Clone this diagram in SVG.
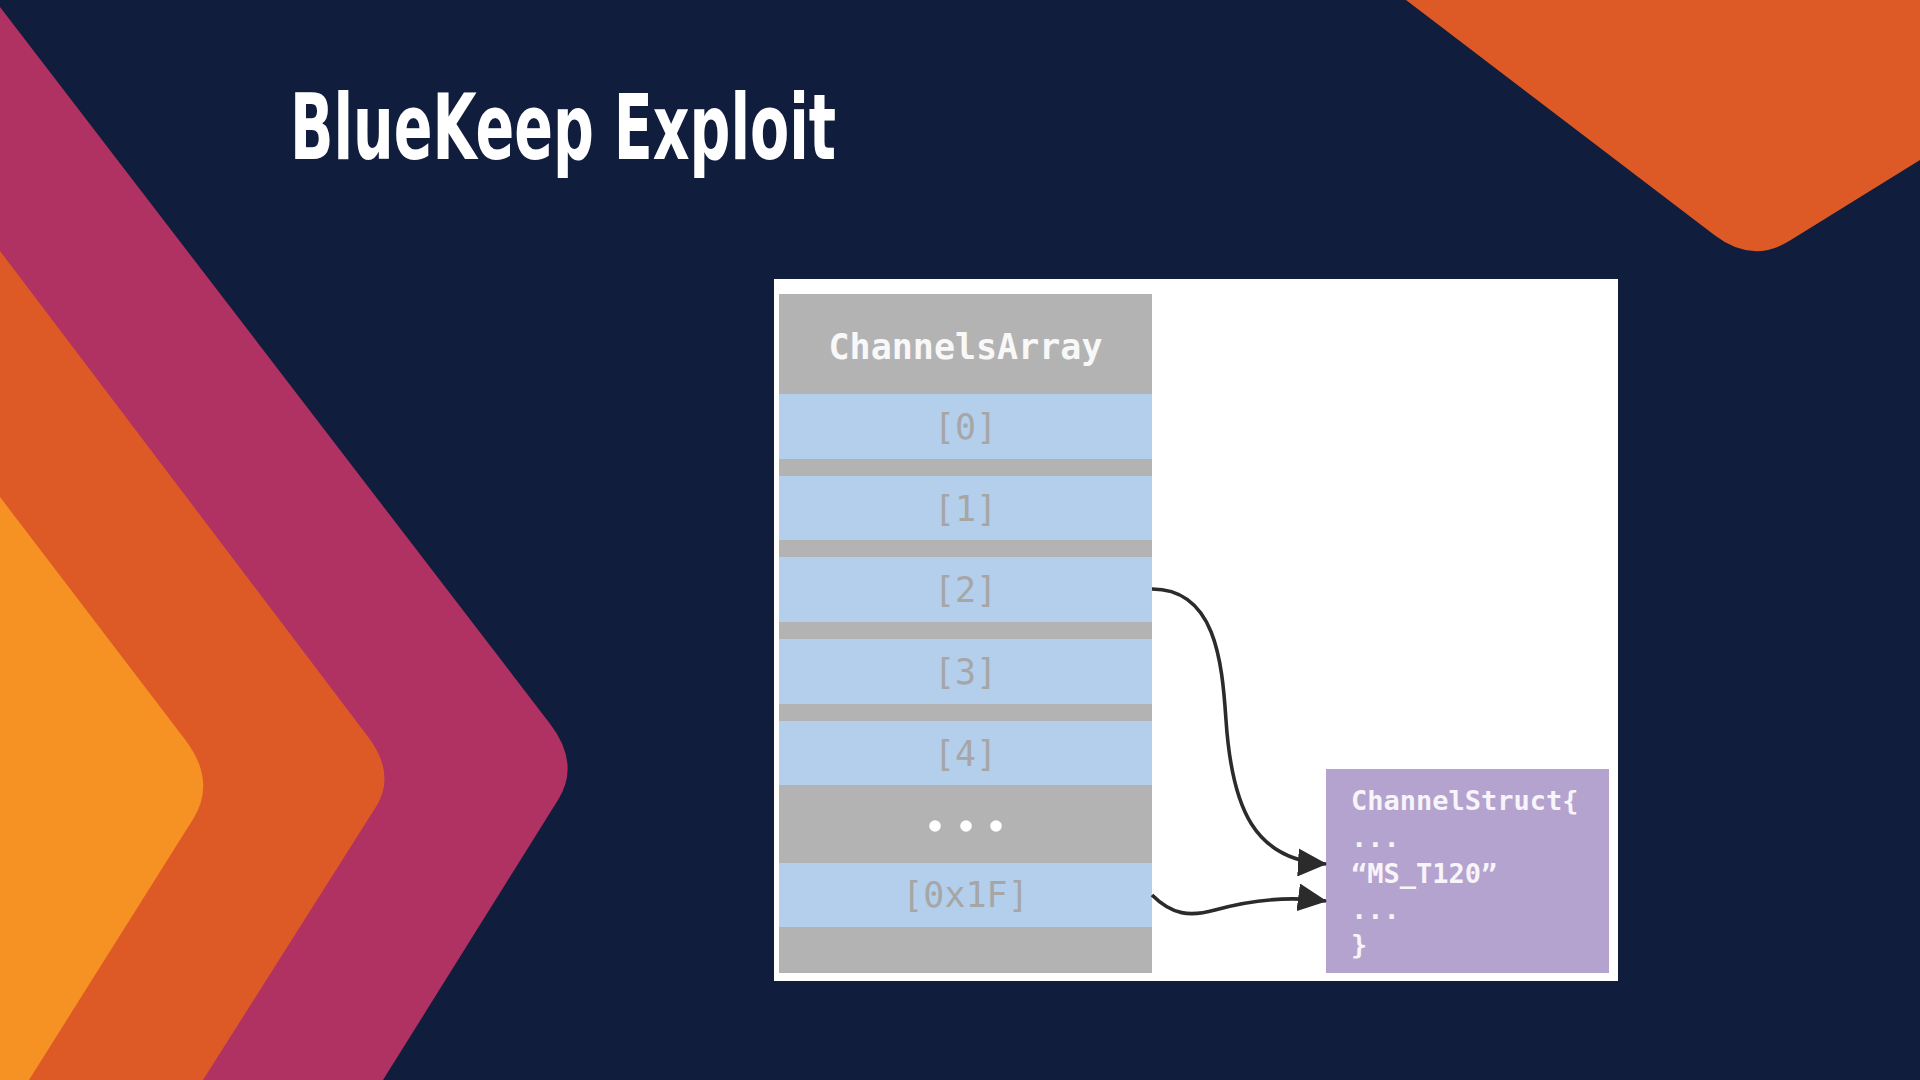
<svg xmlns="http://www.w3.org/2000/svg" width="1920" height="1080" viewBox="0 0 1920 1080">
  <style>
    .mono { font-family: "DejaVu Sans Mono", "Liberation Mono", monospace; }
    .idx { font-size: 35px; fill: #a6a6a6; text-anchor: middle; }
    .slot { fill: #b3cfeb; }
    .gray { fill: #b3b3b3; }
    .struct { font-size: 27px; font-weight: bold; fill: #f7f4fa; }
    .conn { fill: none; stroke: #2b2b2b; stroke-width: 3.6; marker-end: url(#arrow); }
  </style>
  <defs>
    <marker id="arrow" markerUnits="userSpaceOnUse" markerWidth="30" markerHeight="28" refX="28" refY="14" orient="auto" viewBox="0 0 30 28">
      <path d="M0,0 L29,14 L0,28 Z" fill="#2b2b2b"/>
    </marker>
  </defs>

  <g id="background">
    <rect x="0" y="0" width="1920" height="1080" fill="#101d3c"/>
    <path d="M0,7 L550,723.7 Q580.7,763.7 558,800 L383,1080 L0,1080 Z" fill="#b03262"/>
    <path d="M0,251 L368,736.8 Q396.4,774.3 376,806.7 L203,1080 L0,1080 Z" fill="#dd5a26"/>
    <path d="M0,497 L185,739.4 Q216.9,781.2 193,819.2 L29,1080 L0,1080 Z" fill="#f69223"/>
    <path d="M1406,0 L1715,235.5 Q1752.4,264 1790,240.6 L1920,160 L1920,0 Z" fill="#dd5a26"/>
  </g>

  <g id="title">
    <text x="290" y="159" font-family="'Liberation Sans Narrow', 'DejaVu Sans Condensed', 'Liberation Sans', sans-serif" font-weight="bold" font-size="90" fill="#ffffff" textLength="546" lengthAdjust="spacingAndGlyphs">BlueKeep Exploit</text>
  </g>

  <g id="panel">
    <rect x="774" y="279" width="844" height="702" fill="#ffffff"/>
  </g>

  <g id="channels-array">
    <rect class="gray" x="779" y="294" width="373" height="679"/>
    <text class="mono" x="965.5" y="359" font-size="35" font-weight="bold" fill="#f8f8f8" text-anchor="middle">ChannelsArray</text>
  </g>
  <g id="slot-0">
    <rect class="slot" x="779" y="394" width="373" height="65"/>
    <text class="mono idx" x="965.5" y="439">[0]</text>
  </g>
  <g id="slot-1">
    <rect class="slot" x="779" y="476" width="373" height="64"/>
    <text class="mono idx" x="965.5" y="521">[1]</text>
  </g>
  <g id="slot-2">
    <rect class="slot" x="779" y="557" width="373" height="65"/>
    <text class="mono idx" x="965.5" y="602">[2]</text>
  </g>
  <g id="slot-3">
    <rect class="slot" x="779" y="639" width="373" height="65"/>
    <text class="mono idx" x="965.5" y="684">[3]</text>
  </g>
  <g id="slot-4">
    <rect class="slot" x="779" y="721" width="373" height="64"/>
    <text class="mono idx" x="965.5" y="766">[4]</text>
  </g>
  <g id="slot-ellipsis">
    <circle cx="935" cy="826" r="5.8" fill="#ffffff"/>
    <circle cx="966" cy="826" r="5.8" fill="#ffffff"/>
    <circle cx="996" cy="826" r="5.8" fill="#ffffff"/>
  </g>
  <g id="slot-0x1F">
    <rect class="slot" x="779" y="863" width="373" height="64"/>
    <text class="mono idx" x="965.5" y="907">[0x1F]</text>
  </g>

  <g id="channel-struct">
    <rect x="1326" y="769" width="283" height="204" fill="#b5a3cf"/>
    <text class="mono struct" x="1351" y="810">ChannelStruct{</text>
    <text class="mono struct" x="1351" y="847">...</text>
    <text class="mono struct" x="1351" y="883">“MS_T120”</text>
    <text class="mono struct" x="1351" y="919">...</text>
    <text class="mono struct" x="1351" y="954">}</text>
  </g>

  <g id="connectors">
    <path class="conn" d="M1152,589 C1215,589 1222,660 1226,720 C1232,810 1255,860 1326,864"/>
    <path class="conn" d="M1152,895 C1172,915 1190,917 1215,910 S1280,895 1326,901"/>
  </g>
</svg>
